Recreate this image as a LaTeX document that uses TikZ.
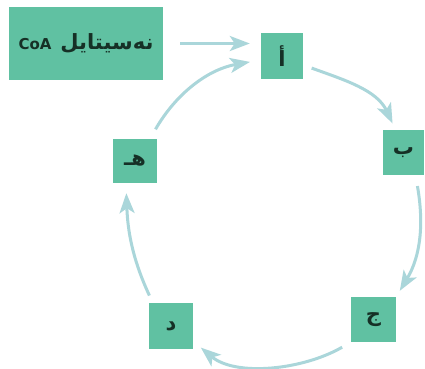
\documentclass[tikz,border=0pt]{standalone}
\usepackage{fontspec}
\usetikzlibrary{arrows.meta}
\TeXXeTstate=1
\newfontfamily\arabicfont[Script=Arabic]{DejaVu Sans}
\definecolor{boxgreen}{RGB}{96,193,162}
\definecolor{arrowblue}{RGB}{170,214,218}
\definecolor{txtdark}{RGB}{22,48,38}
\tikzset{
  box/.style={draw=none, fill=boxgreen, inner sep=0pt, text=txtdark,
    font=\arabicfont\bfseries\fontsize{21}{24}\selectfont},
  letterbox/.style={box, minimum width=44pt, minimum height=44pt},
  arr/.style={draw=arrowblue, line width=3pt,
    -{Stealth[length=20pt,width=15pt,inset=5pt]}}
}
\begin{document}
\begin{tikzpicture}[x=1pt,y=1pt]
\useasboundingbox (0,0) rectangle (425,368);
\fill[white] (0,0) rectangle (425,368);
\node[box, minimum width=154pt, minimum height=73pt] (coa) at (86,324.5)
  {\beginR نەسیتایل\hspace{9pt}\beginL{\fontsize{15}{18}\selectfont CoA}\endL\endR};
\node[letterbox, minimum width=42pt, minimum height=46pt] (a) at (282,312) {\beginR أ\endR};
\node[letterbox, minimum width=41pt, minimum height=45pt] (b) at (403.5,215.5) {\beginR ب\endR};
\node[letterbox, minimum width=45pt, minimum height=45pt] (c) at (373.5,48.5) {\beginR ج\endR};
\node[letterbox, minimum width=44pt, minimum height=46pt] (d) at (171,42) {\beginR د\endR};
\node[letterbox] (h) at (135,207) {\beginR هـ\endR};
% connectors
\draw[arr, shorten <=17pt, shorten >=11pt] (coa.east) -- (coa.east -| a.west);
\draw[arr, shorten <=11pt, shorten >=11pt] ([xshift=15pt]h.north) to[out=60,in=190] ([yshift=-4pt]a.west);
\draw[arr, shorten <=9pt, shorten >=7pt] ([yshift=-9pt]a.east) to[out=-20,in=115] ([xshift=-8pt]b.north);
\draw[arr, shorten <=11pt, shorten >=7pt] ([xshift=12pt]b.south) to[out=-80,in=59] (c.north east);
\draw[arr, shorten <=10pt, shorten >=10pt] (c.south west) to[out=210,in=-40,looseness=0.9] ([yshift=8pt]d.south east);
\draw[arr, shorten <=8pt, shorten >=10pt] ([xshift=4pt]d.north west) to[out=115,in=-88] ([xshift=-9pt]h.south);
\end{tikzpicture}
\end{document}
